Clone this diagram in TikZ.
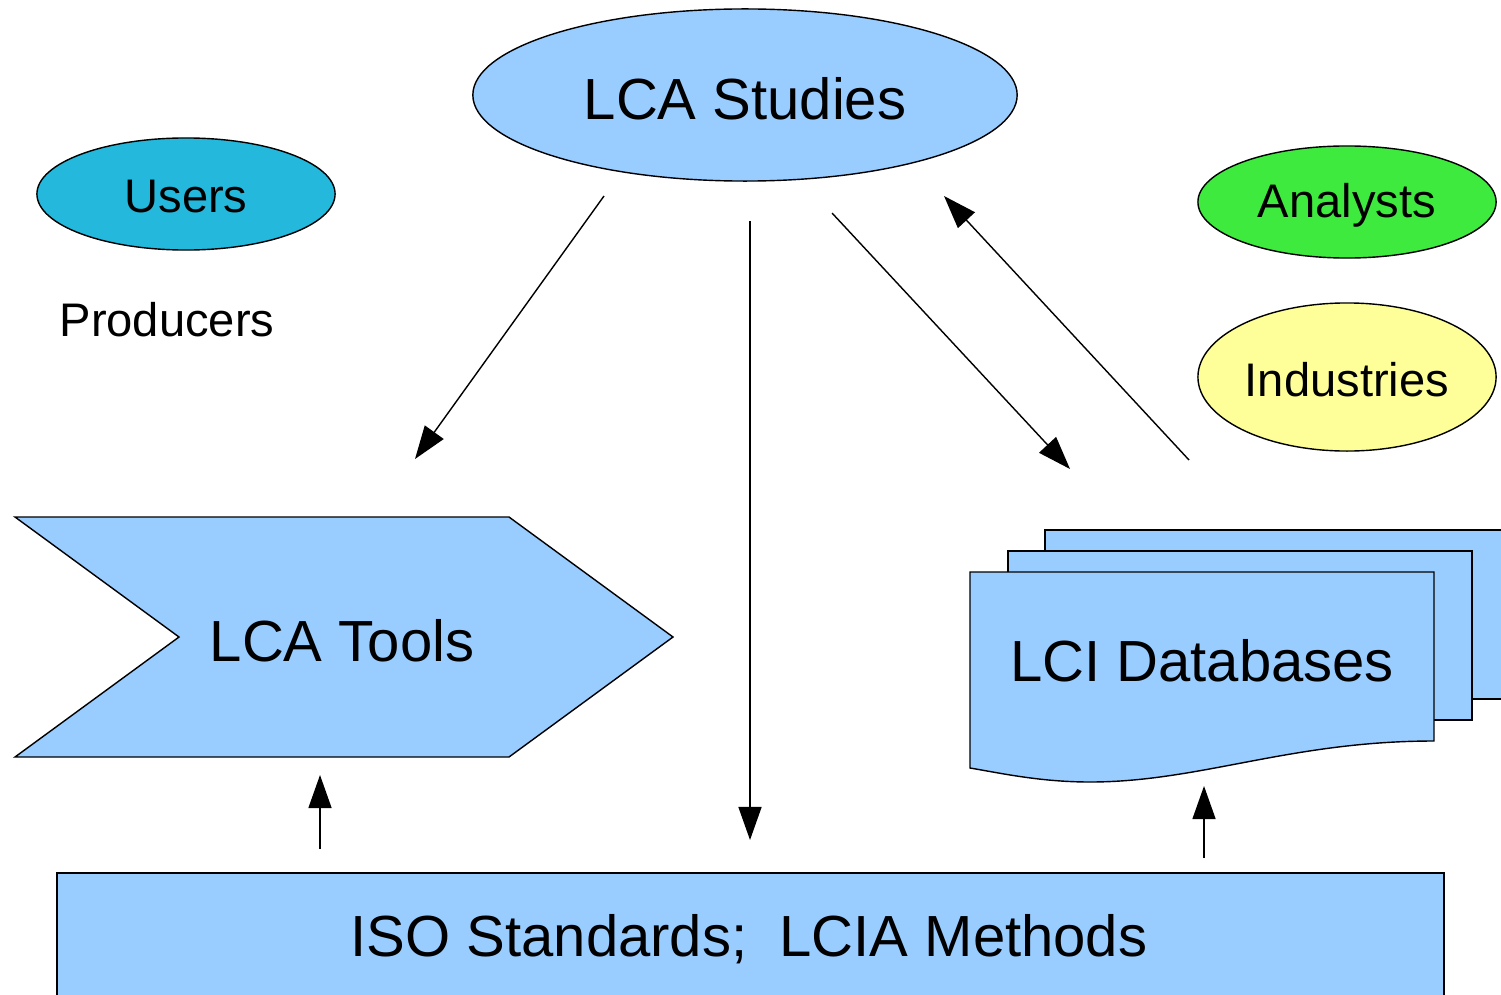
\documentclass[tikz,border=0pt]{standalone}
\usepackage{fontspec}
\setmainfont{Liberation Sans}
\usetikzlibrary{shapes.geometric,arrows.meta}
\definecolor{lblue}{HTML}{99CCFF}
\definecolor{turq}{HTML}{23B8DC}
\definecolor{lgreen}{HTML}{3FEA3F}
\definecolor{lyellow}{HTML}{FFFF99}
\tikzset{
  shp/.style={draw=black, line width=0.4pt},
  ell/.style={shp, ellipse, inner sep=0pt},
  big/.style={font=\fontsize{16.5}{19}\selectfont},
  small/.style={font=\fontsize{13.4}{16}\selectfont},
  arr/.style={line width=0.4pt, -{Triangle[length=3.3mm,width=2.3mm]}},
}
\begin{document}
\begin{tikzpicture}[x=0.01cm,y=-0.01cm]
\useasboundingbox (0,0) rectangle (1501,994);
\clip (0,0) rectangle (1501,994);
% ellipses
\node[ell, fill=lblue, minimum width=5.44cm, minimum height=1.72cm] (studies) at (745,95) {};
\node[big] (studiesT) at (745,99) {LCA Studies};
\node[ell, fill=turq, minimum width=2.98cm, minimum height=1.12cm] (users) at (186,194) {};
\node[small] (usersT) at (186,197) {Users};
\node[small] (producers) at (167,320) {Producers};
\node[ell, fill=lgreen, minimum width=2.98cm, minimum height=1.12cm] (analysts) at (1347,202) {};
\node[small] (analystsT) at (1347,205) {Analysts};
\node[ell, fill=lyellow, minimum width=2.98cm, minimum height=1.48cm] (industries) at (1347,377) {};
\node[small] (industriesT) at (1347,380) {Industries};
% LCA Tools chevron
\draw[shp, fill=lblue] (15,517) -- (509,517) -- (673,637) -- (509,757) -- (15,757) -- (179,637) -- cycle;
\node[big] (tools) at (342,641) {LCA Tools};
% LCI databases (multi-document)
\draw[shp, fill=lblue] (1045,530) rectangle (1515,699);
\draw[shp, fill=lblue] (1008,551) rectangle (1472,720);
\draw[shp, fill=lblue] (970,572) -- (1434,572) -- (1434,741)
  .. controls (1290,741) and (1200,782) .. (1090,782)
  .. controls (1040,782) and (1000,773) .. (970,768) -- cycle;
\node[big] (lci) at (1202,661) {LCI Databases};
% ISO box
\draw[shp, fill=lblue] (57,873) rectangle (1444,1010);
\node[big] (iso) at (749,939) {ISO Standards;\ \ LCIA Methods};
% arrow endpoints
\coordinate (a1s) at (604,196); \coordinate (a1e) at (415,459);
\coordinate (a2s) at (750,221); \coordinate (a2e) at (750,840);
\coordinate (a3s) at (832,213); \coordinate (a3e) at (1070,469);
\coordinate (a4s) at (1189,460); \coordinate (a4e) at (944,196);
\coordinate (a5s) at (320,849); \coordinate (a5e) at (320,775);
\coordinate (a6s) at (1204,858); \coordinate (a6e) at (1204,786);
\draw[arr] (a1s) -- (a1e);
\draw[arr] (a2s) -- (a2e);
\draw[arr] (a3s) -- (a3e);
\draw[arr] (a4s) -- (a4e);
\draw[arr] (a5s) -- (a5e);
\draw[arr] (a6s) -- (a6e);
\end{tikzpicture}
\end{document}
